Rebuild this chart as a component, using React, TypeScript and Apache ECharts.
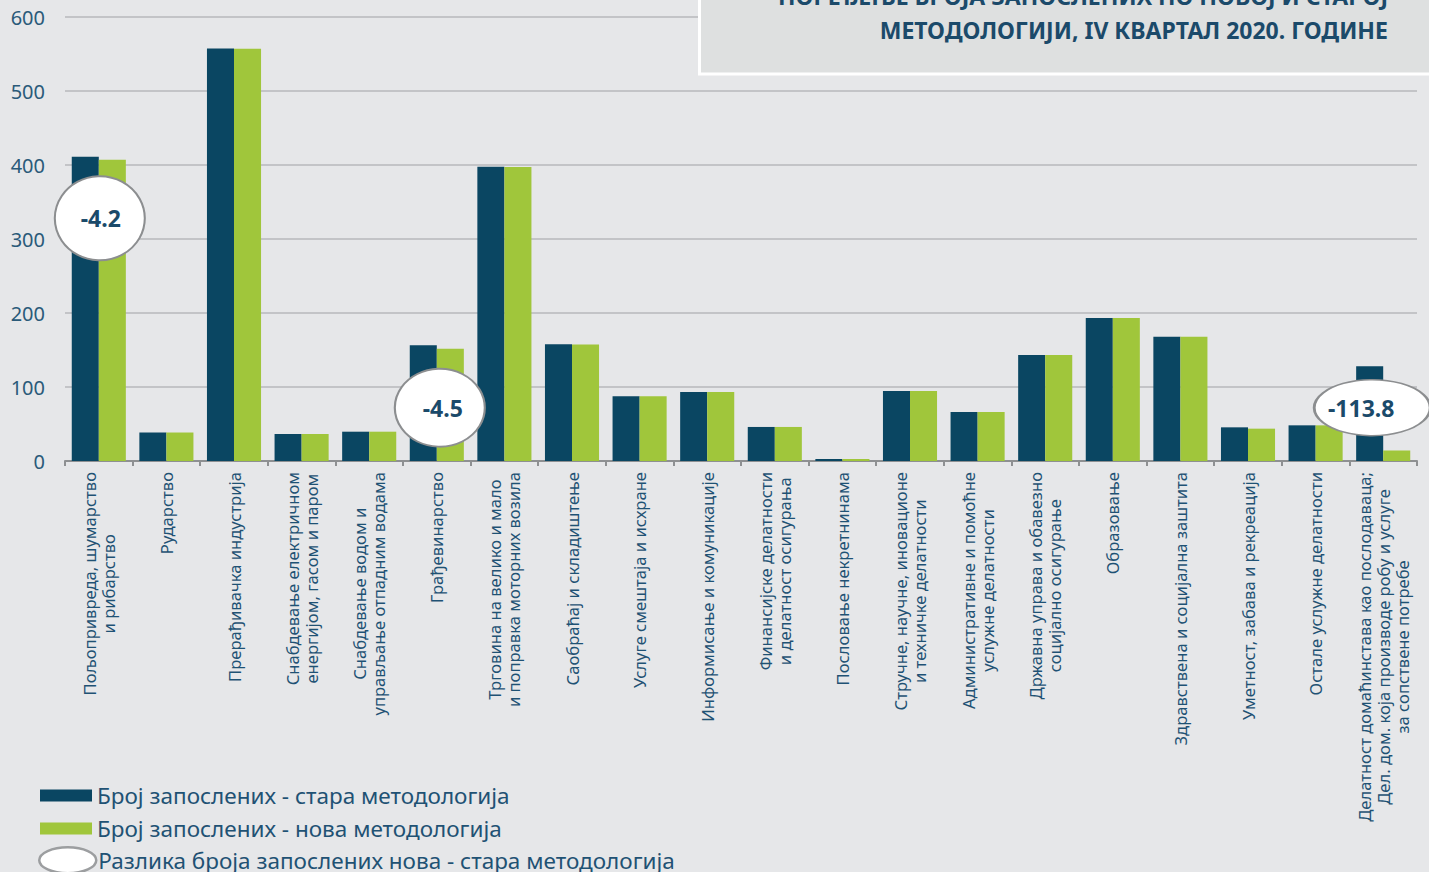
import React, { useEffect, useRef } from "react";
import * as echarts from "echarts";

const categories = [
  "Пољопривреда, шумарство\nи рибарство",
  "Рударство",
  "Прерађивачка индустрија",
  "Снабдевање електричном\nенергијом, гасом и паром",
  "Снабдевање водом и\nуправљање отпадним водама",
  "Грађевинарство",
  "Трговина на велико и мало\nи поправка моторних возила",
  "Саобраћај и складиштење",
  "Услуге смештаја и исхране",
  "Информисање и комуникације",
  "Финансијске делатности\nи делатност осигурања",
  "Пословање некретнинама",
  "Стручне, научне, иновационе\nи техничке делатности",
  "Административне и помоћне\nуслужне делатности",
  "Државна управа и обавезно\nсоцијално осигурање",
  "Образовање",
  "Здравствена и социјална заштита",
  "Уметност, забава и рекреација",
  "Остале услужне делатности",
  "Делатност домаћинстава као послодаваца;\nДел. дом. која производе робу и услуге\nза сопствене потребе",
];

const oldMethod = [411.2, 38.5, 557.5, 36.5, 39.6, 156.3, 397.5, 157.8, 87.4, 93.2, 46.0, 2.7, 94.6, 66.2, 143.2, 193.2, 168.0, 45.5, 48.2, 128.0];
const newMethod = [407.0, 38.5, 557.0, 36.5, 39.6, 151.8, 397.2, 157.6, 87.4, 93.2, 46.0, 2.7, 94.6, 66.2, 143.2, 193.2, 167.8, 43.7, 48.2, 14.2];

const yTicks = [0, 100, 200, 300, 400, 500, 600];

const diffCategoryIndex = [0, 5, 19];
const diffValues = [-4.2, -4.5, -113.8];
const diffBubbleLevel = [328, 72, 72];

const seriesNames = [
  "Број запослених - стара методологија",
  "Број запослених - нова методологија",
  "Разлика броја запослених нова - стара методологија",
];

const titleLines = [
  "ПОРЕЂЕЊЕ БРОЈА ЗАПОСЛЕНИХ ПО НОВОЈ И СТАРОЈ",
  "МЕТОДОЛОГИЈИ, IV КВАРТАЛ 2020. ГОДИНЕ",
];

const FONT = "'Noto Sans', 'DejaVu Sans', sans-serif";
const TEXT = "#1F5274";

export default function App() {
  const ref = useRef<HTMLDivElement>(null);

  useEffect(() => {
    document.body.style.margin = "0";
    const chart = echarts.init(ref.current!, null, { renderer: "svg" });

    const bubbleSizes = [
      [90, 84],
      [90, 78],
      [116, 56],
    ];
    const bubbleOffsets = [
      [1, 0],
      [3, 0],
      [-11, 0],
    ];

    const bubbleData = diffCategoryIndex.map((ci, i) => ({
      value: [ci, diffBubbleLevel[i]],
      diff: diffValues[i],
      symbolSize: bubbleSizes[i],
      symbolOffset: bubbleOffsets[i],
      label: { offset: bubbleOffsets[i] },
    }));

    const option: any = {
      animation: false,
      backgroundColor: "#E6E7E9",
      textStyle: { fontFamily: FONT },
      grid: { left: 65, right: 12, top: 17, bottom: 411, containLabel: false },
      xAxis: {
        type: "category",
        data: categories,
        axisLine: { lineStyle: { color: "#8E9092", width: 2 } },
        axisTick: { show: true, length: 5, lineStyle: { color: "#8E9092", width: 2 } },
        axisLabel: {
          interval: 0,
          rotate: 90,
          margin: 11,
          color: TEXT,
          fontFamily: FONT,
          fontSize: 16.6,
          formatter: (v: string) =>
            v
              .split("\n")
              .map((l) => "{c|" + l + "}")
              .join("\n"),
          rich: {
            c: { align: "center", color: TEXT, fontSize: 16.6, fontFamily: FONT, lineHeight: 19 },
          },
        },
      },
      yAxis: {
        type: "value",
        min: yTicks[0],
        max: yTicks[yTicks.length - 1],
        interval: 100,
        axisLine: { show: false },
        axisTick: { show: false },
        axisLabel: { color: "#2A5A79", fontSize: 20, margin: 20, fontFamily: FONT },
        splitLine: { lineStyle: { color: "#B7B9BB", width: 1.5 } },
      },
      legend: [
        {
          orient: "vertical",
          left: 35,
          top: 779,
          itemWidth: 52,
          itemHeight: 12,
          itemGap: 10,
          icon: "rect",
          data: [seriesNames[0], seriesNames[1]],
          textStyle: { color: TEXT, fontSize: 22.5, lineHeight: 22, fontFamily: FONT },
          selectedMode: false,
        },
        {
          orient: "vertical",
          left: 33,
          top: 841,
          itemWidth: 57,
          itemHeight: 26,
          icon: "path://M0,13 A28.5,13 0 1 1 57,13 A28.5,13 0 1 1 0,13 Z",
          data: [seriesNames[2]],
          itemStyle: { color: "#FFFFFF", borderColor: "#9C9EA0", borderWidth: 2.5 },
          textStyle: { color: TEXT, fontSize: 22.5, lineHeight: 22, fontFamily: FONT, padding: [0, 0, 0, -3] },
          selectedMode: false,
        },
      ],
      series: [
        {
          name: seriesNames[0],
          type: "bar",
          data: oldMethod,
          barGap: "0%",
          barCategoryGap: "20%",
          itemStyle: { color: "#0A4662" },
          z: 2,
        },
        {
          name: seriesNames[1],
          type: "bar",
          data: newMethod,
          itemStyle: { color: "#A0C63B" },
          z: 2,
        },
        {
          name: seriesNames[2],
          type: "scatter",
          symbol: "circle",
          data: bubbleData,
          itemStyle: {
            color: "#FFFFFF",
            borderColor: "#8C8E90",
            borderWidth: 2,
            opacity: 1,
          },
          label: {
            show: true,
            position: "inside",
            formatter: (p: any) => String(p.data.diff),
            color: "#1B4A6A",
            fontSize: 23,
            fontWeight: "bold",
            fontFamily: FONT,
          },
          z: 5,
        },
      ],
      graphic: [
        {
          type: "rect",
          z: 10,
          shape: { x: 699.5, y: -10, width: 760, height: 84 },
          style: { fill: "#DEE0E0", stroke: "#FFFFFF", lineWidth: 3 },
        },
        {
          type: "text",
          z: 11,
          right: 41,
          top: -21,
          style: {
            text: titleLines.join("\n"),
            textAlign: "right",
            fill: "#1B4A6A",
            font: "bold 23px 'Noto Sans', sans-serif",
            lineHeight: 34,
          },
        },
      ],
    };

    chart.setOption(option);
    return () => chart.dispose();
  }, []);

  return (
    <div
      ref={ref}
      style={{ position: "fixed", left: 0, top: 0, width: 1429, height: 872 }}
    />
  );
}
